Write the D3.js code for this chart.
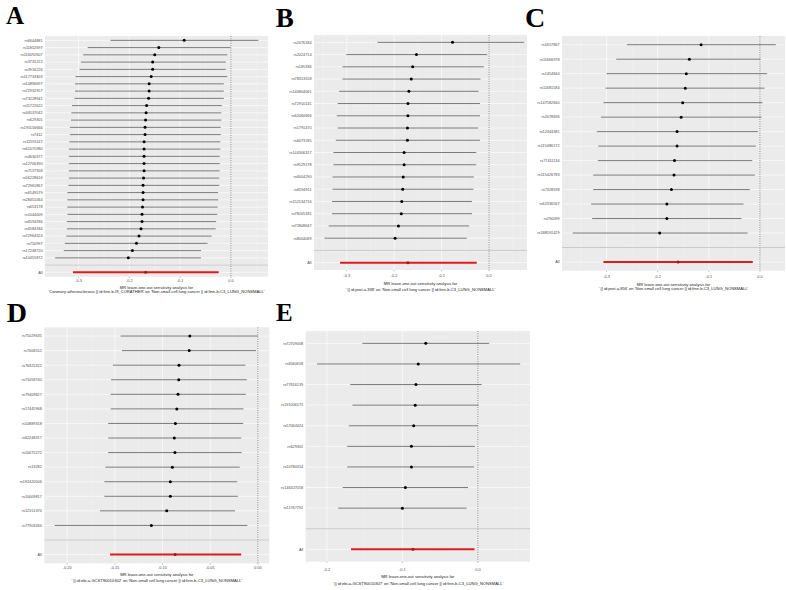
<!DOCTYPE html>
<html>
<head>
<meta charset="utf-8">
<script src="https://cdn.jsdelivr.net/npm/d3@7"></script>
<style>
  body { margin: 0; background: #fff; }
  svg { display: block; }
</style>
</head>
<body>
<div id="chart"></div>
<script>
// Panel A
const snpsA = ["rs6644881","rs11852697","rs116092607","rs3731222","rs3916226","rs117733303","rs10896697","rs72932957","rs73228941","rs11722622","rs34537042","rs629301","rs191156666","rs7412","rs11591147","rs61075980","rs4630377","rs12706390","rs7157358","rs56228616","rs72961867","rs6549579","rs28451064","rs653178","rs1044009","rs6594336","rs6584184","rs72964324","rs750997","rs17248720","rs10455872"]
const bA  = [-0.092,-0.142,-0.150,-0.154,-0.154,-0.157,-0.161,-0.161,-0.162,-0.166,-0.167,-0.168,-0.169,-0.169,-0.171,-0.171,-0.171,-0.171,-0.171,-0.172,-0.173,-0.173,-0.173,-0.174,-0.175,-0.175,-0.177,-0.181,-0.186,-0.194,-0.202]
const loA = [-0.237,-0.282,-0.291,-0.295,-0.298,-0.306,-0.307,-0.307,-0.308,-0.313,-0.314,-0.315,-0.317,-0.317,-0.318,-0.319,-0.319,-0.319,-0.319,-0.319,-0.320,-0.322,-0.322,-0.322,-0.322,-0.323,-0.323,-0.324,-0.327,-0.329,-0.346]
const hiA = [0.054,-0.001,-0.007,-0.010,-0.010,-0.007,-0.014,-0.014,-0.014,-0.018,-0.019,-0.019,-0.020,-0.020,-0.021,-0.021,-0.022,-0.022,-0.022,-0.023,-0.023,-0.025,-0.025,-0.026,-0.027,-0.029,-0.030,-0.038,-0.046,-0.059,-0.059]
const allA = [-0.168, -0.311, -0.024]
const titleA = "'Coronary atherosclerosis || id:finn-b-I9_CORATHER' on 'Non-small cell lung cancer || id:finn-b-C3_LUNG_NONSMALL'"

// Panel B
const snpsB = ["rs2076184","rs2024714","rs185336","rs78313558","rs140804061","rs72910141","rs62060666","rs1791470","rs6073185","rs144306317","rs9529178","rs6004290","rs6594911","rs152134716","rs78205181","rs72808647","rs8004069"]
const bB  = [-0.077,-0.153,-0.161,-0.164,-0.169,-0.171,-0.171,-0.172,-0.172,-0.179,-0.179,-0.181,-0.182,-0.184,-0.185,-0.191,-0.198]
const loB = [-0.235,-0.301,-0.309,-0.309,-0.316,-0.319,-0.321,-0.319,-0.323,-0.328,-0.328,-0.330,-0.330,-0.331,-0.331,-0.338,-0.347]
const hiB = [0.074,-0.004,-0.011,-0.018,-0.022,-0.019,-0.019,-0.023,-0.019,-0.027,-0.027,-0.032,-0.033,-0.036,-0.036,-0.042,-0.047]
const allB = [-0.171, -0.314, -0.026]
const titleB = "' || id:prot-a-338' on 'Non-small cell lung cancer || id:finn-b-C3_LUNG_NONSMALL'"

// Panel C
const snpsC = ["rs1657867","rs11666978","rs1454844","rs11681584","rs147582660","rs2078696","rs12344381","rs115486172","rs77411134","rs115426783","rs7328598","rs62336567","rs190099","rs188591429"]
const bC  = [-0.115,-0.138,-0.144,-0.146,-0.151,-0.154,-0.162,-0.162,-0.167,-0.168,-0.173,-0.182,-0.182,-0.196]
const loC = [-0.260,-0.281,-0.300,-0.302,-0.306,-0.311,-0.319,-0.316,-0.317,-0.326,-0.326,-0.330,-0.328,-0.366]
const hiC = [0.031,0.001,0.014,0.009,0.005,0.003,-0.004,-0.008,-0.015,-0.010,-0.020,-0.032,-0.036,-0.024]
const allC = [-0.160, -0.306, -0.014]
const titleC = "' || id:prot-a-856' on 'Non-small cell lung cancer || id:finn-b-C3_LUNG_NONSMALL'"

// Panel D
const snpsD = ["rs75029635","rs7006552","rs76325322","rs71058740","rs79409827","rs17445968","rs10889318","rs62248317","rs10075272","rs13282","rs192420506","rs10009817","rs12151370","rs77903266"]
const bD  = [-0.0714,-0.072,-0.0827,-0.083,-0.0837,-0.085,-0.0865,-0.0876,-0.087,-0.0897,-0.0918,-0.0918,-0.0956,-0.1117]
const loD = [-0.144,-0.1425,-0.152,-0.154,-0.1544,-0.1544,-0.157,-0.157,-0.157,-0.160,-0.161,-0.161,-0.1656,-0.213]
const hiD = [0.000,-0.002,-0.013,-0.0116,-0.0126,-0.0151,-0.0154,-0.0175,-0.017,-0.019,-0.0217,-0.021,-0.024,-0.011]
const allD = [-0.0868, -0.155, -0.0175]
const titleD = "' || id:ebi-a-GCST90010302' on 'Non-small cell lung cancer || id:finn-b-C3_LUNG_NONSMALL'"

// Panel E
const snpsE = ["rs72709008","rs6560658","rs77616139","rs191006171","rs57064424","rs629301","rs10780314","rs146327058","rs11767792"]
const bE  = [-0.069,-0.079,-0.082,-0.083,-0.085,-0.088,-0.088,-0.096,-0.100]
const loE = [-0.153,-0.213,-0.169,-0.166,-0.171,-0.173,-0.173,-0.179,-0.185]
const hiE = [0.015,0.056,0.005,0.001,0.000,-0.004,-0.005,-0.013,-0.015]
const allE = [-0.086, -0.168, -0.0045]
const titleE = "' || id:ebi-a-GCST90010307' on 'Non-small cell lung cancer || id:finn-b-C3_LUNG_NONSMALL'"

const xTitle = "MR leave-one-out sensitivity analysis for"

const W = 786, H = 590
const svg = d3.select("#chart").append("svg")
  .attr("width", W)
  .attr("height", H)
  .attr("viewBox", [0, 0, W, H])

const sans = "'Liberation Sans', Arial, sans-serif"

function drawPanel(p, idx) {
  const rows = p.snps.map((s, i) => ({ snp: s, b: p.b[i], lo: p.lo[i], hi: p.hi[i], all: false }))
  rows.push({ snp: "All", b: p.all[0], lo: p.all[1], hi: p.all[2], all: true })
  const levels = [...p.snps, "", "All"]

  const x = d3.scaleLinear().domain(p.domain).range([p.left, p.right])
  const y = d3.scalePoint().domain(levels).range([p.top, p.bottom]).padding(0.6)

  const g = svg.append("g")

  // fondo gris estilo ggplot
  g.append("rect")
    .attr("x", p.left).attr("y", p.top)
    .attr("width", p.right - p.left).attr("height", p.bottom - p.top)
    .attr("fill", "#ebebeb")

  const clipId = "clip" + idx
  g.append("clipPath").attr("id", clipId)
    .append("rect")
    .attr("x", p.left).attr("y", p.top)
    .attr("width", p.right - p.left).attr("height", p.bottom - p.top)

  const inner = g.append("g").attr("clip-path", `url(#${clipId})`)

  // grid menor
  const step = p.ticks[1] - p.ticks[0]
  const minor = []
  for (let v = p.ticks[0] - step / 2; v <= p.domain[1]; v += step) {
    if (v >= p.domain[0]) minor.push(v)
  }
  inner.selectAll(".minor").data(minor).join("line")
    .attr("x1", d => x(d)).attr("x2", d => x(d))
    .attr("y1", p.top).attr("y2", p.bottom)
    .attr("stroke", "#f7f7f7").attr("stroke-width", 0.3)

  // grid mayor
  inner.selectAll(".vmajor").data(p.ticks).join("line")
    .attr("x1", d => x(d)).attr("x2", d => x(d))
    .attr("y1", p.top).attr("y2", p.bottom)
    .attr("stroke", "#fff").attr("stroke-width", 0.6)

  inner.selectAll(".hmajor").data(levels).join("line")
    .attr("x1", p.left).attr("x2", p.right)
    .attr("y1", d => y(d)).attr("y2", d => y(d))
    .attr("stroke", "#fff").attr("stroke-width", 0.6)

  // línea de referencia en 0
  inner.append("line")
    .attr("x1", x(0)).attr("x2", x(0))
    .attr("y1", p.top).attr("y2", p.bottom)
    .attr("stroke", "#555").attr("stroke-width", 0.7)
    .attr("stroke-dasharray", "1,1.3")

  // separador antes de "All"
  inner.append("line")
    .attr("x1", p.left).attr("x2", p.right)
    .attr("y1", y("")).attr("y2", y(""))
    .attr("stroke", "#bebebe").attr("stroke-width", 0.8)

  // intervalos
  inner.selectAll(".ci").data(rows).join("line")
    .attr("x1", d => x(d.lo)).attr("x2", d => x(d.hi))
    .attr("y1", d => y(d.snp)).attr("y2", d => y(d.snp))
    .attr("stroke", d => d.all ? "#e01b1b" : "#5a5a5a")
    .attr("stroke-width", d => d.all ? 2 : 0.8)

  // estimaciones
  inner.selectAll(".pt").data(rows).join("circle")
    .attr("cx", d => x(d.b)).attr("cy", d => y(d.snp))
    .attr("r", 1.5)
    .attr("fill", d => d.all ? "#9b1c1c" : "#000")

  // eje y
  g.selectAll(".ylab").data(levels.filter(d => d !== "")).join("text")
    .attr("x", p.left - 2.5).attr("y", d => y(d))
    .attr("dy", "0.35em")
    .attr("text-anchor", "end")
    .attr("font-family", sans).attr("font-size", 3.8)
    .attr("fill", "#4d4d4d")
    .text(d => d)

  // eje x
  g.selectAll(".xtick").data(p.ticks).join("line")
    .attr("x1", d => x(d)).attr("x2", d => x(d))
    .attr("y1", p.bottom).attr("y2", p.bottom + 1.2)
    .attr("stroke", "#4d4d4d").attr("stroke-width", 0.4)

  g.selectAll(".xlab").data(p.ticks).join("text")
    .attr("x", d => x(d)).attr("y", p.tickY)
    .attr("dy", "0.35em")
    .attr("text-anchor", "middle")
    .attr("font-family", sans).attr("font-size", 3.9)
    .attr("fill", "#4d4d4d")
    .text(d => d.toFixed(p.digits))

  const cx = (p.left + p.right) / 2
  g.append("text")
    .attr("x", cx).attr("y", p.titleY[0]).attr("dy", "0.35em")
    .attr("text-anchor", "middle")
    .attr("font-family", sans).attr("font-size", 4.1)
    .attr("fill", "#222")
    .text(xTitle)
  g.append("text")
    .attr("x", cx).attr("y", p.titleY[1]).attr("dy", "0.35em")
    .attr("text-anchor", "middle")
    .attr("font-family", sans).attr("font-size", 4.1)
    .attr("fill", "#222")
    .text(p.title)

  // letra del panel
  svg.append("text")
    .attr("x", p.letterPos[0]).attr("y", p.letterPos[1])
    .attr("font-family", "'Liberation Serif', 'Times New Roman', serif")
    .attr("font-weight", "bold")
    .attr("font-size", p.letterPos[2])
    .attr("fill", "#000")
    .text(p.letter)
}

const panels = [
  { letter: "A", letterPos: [6, 24.3, 25], snps: snpsA, b: bA, lo: loA, hi: hiA, all: allA, title: titleA,
    left: 45, right: 268, top: 36, bottom: 276.7, domain: [-0.366, 0.073],
    ticks: [-0.3, -0.2, -0.1, 0], digits: 1, tickY: 281, titleY: [288, 291.5] },
  { letter: "B", letterPos: [275.7, 26.7, 27], snps: snpsB, b: bB, lo: loB, hi: hiB, all: allB, title: titleB,
    left: 314, right: 527, top: 35, bottom: 270, domain: [-0.369, 0.080],
    ticks: [-0.3, -0.2, -0.1, 0], digits: 1, tickY: 276, titleY: [283.3, 289.3] },
  { letter: "C", letterPos: [525, 27.3, 28], snps: snpsC, b: bC, lo: loC, hi: hiC, all: allC, title: titleC,
    left: 562, right: 785, top: 36, bottom: 270.7, domain: [-0.387, 0.049],
    ticks: [-0.3, -0.2, -0.1, 0], digits: 1, tickY: 276.5, titleY: [285, 289] },
  { letter: "D", letterPos: [6.7, 321.7, 28], snps: snpsD, b: bD, lo: loD, hi: hiD, all: allD, title: titleD,
    left: 44.3, right: 269.3, top: 327.3, bottom: 563.3, domain: [-0.224, 0.012],
    ticks: [-0.2, -0.15, -0.1, -0.05, 0], digits: 2, tickY: 567.7, titleY: [575, 580.3] },
  { letter: "E", letterPos: [276, 321, 25], snps: snpsE, b: bE, lo: loE, hi: hiE, all: allE, title: titleE,
    left: 305.7, right: 530, top: 331, bottom: 561.7, domain: [-0.228, 0.069],
    ticks: [-0.2, -0.1, 0], digits: 1, tickY: 569.3, titleY: [576.7, 583.3] }
]

panels.forEach((p, i) => drawPanel(p, i))
</script>
</body>
</html>
